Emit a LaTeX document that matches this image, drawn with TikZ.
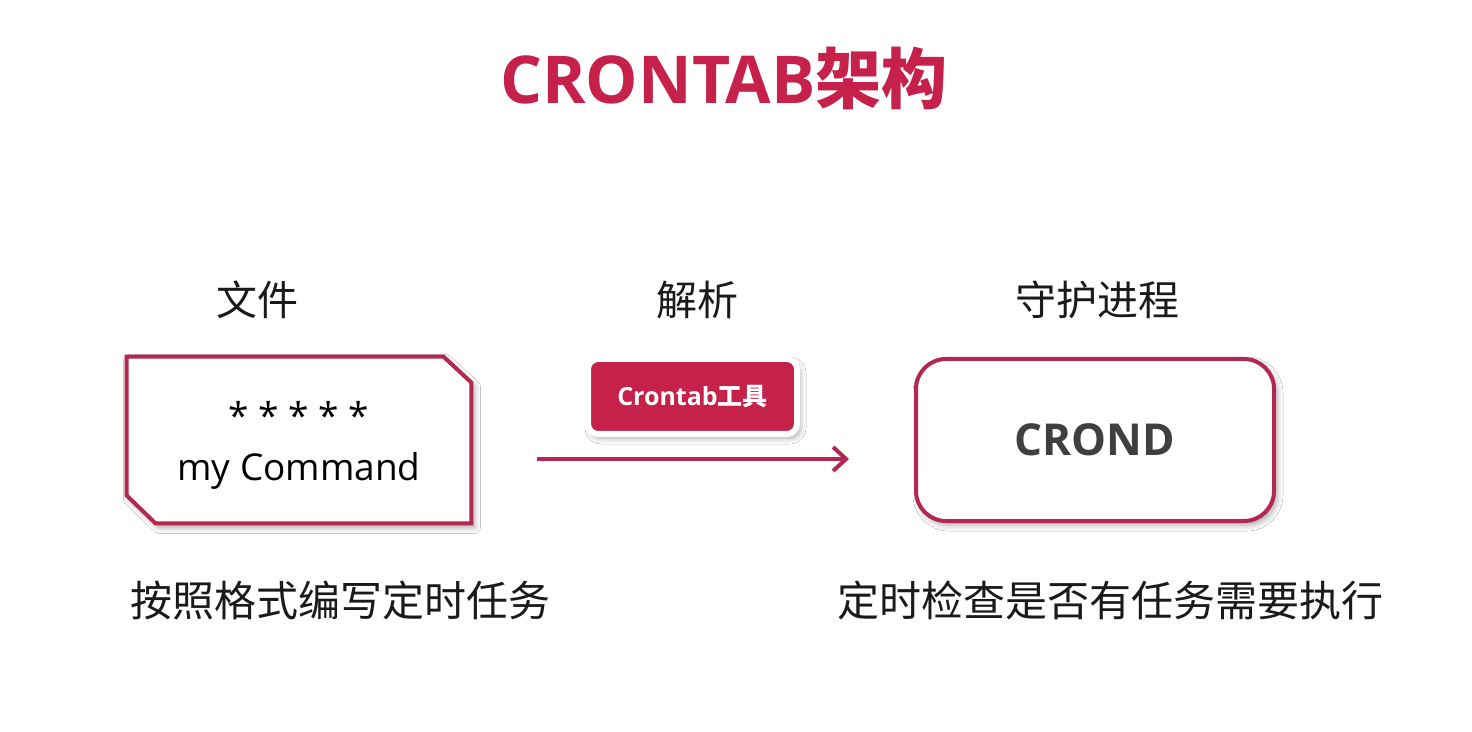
\documentclass[tikz,border=0pt]{standalone}
\usepackage{fontspec}
\setmainfont{Open Sans}
\newfontfamily\cjk{Noto Sans CJK SC}
\usetikzlibrary{arrows.meta,shadows.blur}
\definecolor{crimson}{HTML}{C5214A}
\definecolor{edgered}{HTML}{B42750}
\definecolor{inkgrey}{HTML}{3F3F3F}
\definecolor{textblack}{HTML}{1A1A1A}
\tikzset{
  boxshadow/.style={blur shadow={shadow xshift=1.5pt, shadow yshift=-2pt, shadow blur radius=3pt, shadow opacity=35}},
  headlabel/.style={font=\cjk\fontsize{20.5pt}{24pt}\selectfont, text=textblack},
  caption/.style={font=\cjk\fontsize{21pt}{25pt}\selectfont, text=textblack},
  filebox/.style={minimum width=172pt, minimum height=83pt, inner sep=0pt},
  daemonbox/.style={draw=edgered, line width=2pt, fill=white, rounded corners=15pt,
    minimum width=179pt, minimum height=81pt, boxshadow,
    font=\bfseries\fontsize{22pt}{26pt}\selectfont, text=inkgrey},
  toolbox/.style={fill=crimson, draw=white, line width=3pt, rounded corners=5pt,
    minimum width=104.5pt, minimum height=37.5pt, boxshadow, text=white,
    font=\bfseries\fontsize{12.5pt}{15pt}\selectfont},
  flow/.style={draw=edgered, line width=2pt, -{Straight Barb[length=6.5pt,width=12pt,line width=2pt]}},
}
\begin{document}
\begin{tikzpicture}[x=0.5pt,y=-0.5pt]
  \useasboundingbox[fill=white] (0,0) rectangle (1472,732);

  % title
  \node (title) at (724,78) {\color{crimson}\bfseries\fontsize{33pt}{38pt}\selectfont CRONTAB{\cjk 架构}};

  % column headings
  \node[headlabel] (hfile) at (257,300) {文件};
  \node[headlabel] (hparse) at (697,300) {解析};
  \node[headlabel] (hdaemon) at (1097,300) {守护进程};

  % crontab file with two chamfered corners
  \node[filebox] (file) at (299,440) {};
  \draw[edgered, line width=2pt, fill=white, boxshadow, line join=miter]
    (file.north west) -- ([xshift=-14pt]file.north east)
    -- ([yshift=-13pt]file.north east) -- (file.south east)
    -- ([xshift=14.5pt]file.south west) -- ([yshift=14pt]file.south west) -- cycle;
  \node[align=center, font=\fontsize{18.5pt}{25.5pt}\selectfont, text=black] (filetext) at (299,445)
    {* * * * *\\my Command};

  % parser tool
  \node[toolbox] (tool) at (692.5,396.5) {Crontab{\cjk 工具}};

  % daemon
  \node[daemonbox] (crond) at (1095,440) {CROND};

  % flow arrow
  \coordinate (arrstart) at (537,459);
  \coordinate (arrend) at (849,459);
  \draw[flow] (arrstart) -- (arrend);

  % captions
  \node[caption] (capfile) at (340,600) {按照格式编写定时任务};
  \node[caption] (capdaemon) at (1110,600) {定时检查是否有任务需要执行};
\end{tikzpicture}
\end{document}
